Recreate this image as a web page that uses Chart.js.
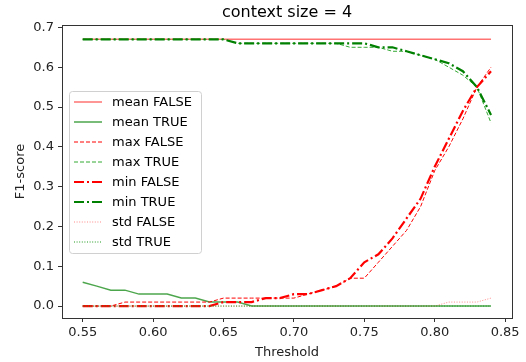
<!DOCTYPE html>
<html>
<head>
<meta charset="utf-8">
<script src="https://cdn.jsdelivr.net/npm/chart.js@4.4.1/dist/chart.umd.min.js"></script>
<style>
  html,body{margin:0;padding:0;background:#fff;}
</style>
</head>
<body>
<canvas id="myChart" width="526" height="362"></canvas>
<script>
// data, one point per 0.01 threshold
const thresholds = [0.55,0.56,0.57,0.58,0.59,0.60,0.61,0.62,0.63,0.64,0.65,0.66,0.67,0.68,0.69,0.70,0.71,0.72,0.73,0.74,0.75,0.76,0.77,0.78,0.79,0.80,0.81,0.82,0.83,0.84];
const meanFalse = [0.67,0.67,0.67,0.67,0.67,0.67,0.67,0.67,0.67,0.67,0.67,0.67,0.67,0.67,0.67,0.67,0.67,0.67,0.67,0.67,0.67,0.67,0.67,0.67,0.67,0.67,0.67,0.67,0.67,0.67];
const meanTrue  = [0.06,0.05,0.04,0.04,0.03,0.03,0.03,0.02,0.02,0.01,0.01,0.01,0,0,0,0,0,0,0,0,0,0,0,0,0,0,0,0,0,0];
const maxFalse  = [0,0,0,0.01,0.01,0.01,0.01,0.01,0.01,0.01,0.02,0.02,0.02,0.02,0.02,0.02,0.03,0.04,0.05,0.07,0.07,0.11,0.15,0.19,0.25,0.34,0.40,0.47,0.55,0.60];
const maxTrue   = [0.67,0.67,0.67,0.67,0.67,0.67,0.67,0.67,0.67,0.67,0.67,0.66,0.66,0.66,0.66,0.66,0.66,0.66,0.66,0.65,0.65,0.65,0.64,0.64,0.63,0.62,0.60,0.58,0.55,0.46];
const minFalse  = [0,0,0,0,0,0,0,0,0,0,0.01,0.01,0.01,0.02,0.02,0.03,0.03,0.04,0.05,0.07,0.11,0.13,0.17,0.22,0.27,0.35,0.42,0.49,0.55,0.59];
const minTrue   = [0.67,0.67,0.67,0.67,0.67,0.67,0.67,0.67,0.67,0.67,0.67,0.66,0.66,0.66,0.66,0.66,0.66,0.66,0.66,0.66,0.66,0.65,0.65,0.64,0.63,0.62,0.61,0.59,0.55,0.48];
const stdFalse  = [0,0,0,0,0,0,0,0,0,0,0,0,0,0,0,0,0,0,0,0,0,0,0,0,0,0,0.01,0.01,0.01,0.02];
const stdTrue   = [0,0,0,0,0,0,0,0,0,0,0,0,0,0,0,0,0,0,0,0,0,0,0,0,0,0,0,0,0,0];

const xTicks = [0.55,0.60,0.65,0.70,0.75,0.80,0.85];
const yTicks = [0,0.1,0.2,0.3,0.4,0.5,0.6,0.7];
const title = 'context size = 4';

const FONT = 'DejaVu Sans';
const pts = arr => arr.map((v,i) => ({x: thresholds[i], y: v}));

const series = [
  {label:'mean FALSE', data: meanFalse, color:'rgba(255,0,0,0.55)', width:1.5, dash:[]},
  {label:'mean TRUE',  data: meanTrue,  color:'rgba(0,128,0,0.7)',  width:1.5, dash:[]},
  {label:'max FALSE',  data: maxFalse,  color:'#ff0000', width:1, dash:[4,2]},
  {label:'max TRUE',   data: maxTrue,   color:'#33a833', width:1, dash:[4,2]},
  {label:'min FALSE',  data: minFalse,  color:'#ff0000', width:2.2, dash:[10,3,2,3]},
  {label:'min TRUE',   data: minTrue,   color:'#008000', width:2.2, dash:[10,3,2,3]},
  {label:'std FALSE',  data: stdFalse,  color:'rgba(255,60,60,0.6)', width:1, dash:[1,1.6]},
  {label:'std TRUE',   data: stdTrue,   color:'#1f9a1f', width:1, dash:[1,1.6]}
];

// box around the axes, title and the legend inside the plot
const framePlugin = {
  id:'frame',
  afterDraw(chart){
    const {ctx, chartArea:a} = chart;
    ctx.save();
    ctx.strokeStyle = '#333';
    ctx.lineWidth = 1;
    ctx.strokeRect(Math.round(a.left)+0.5, Math.round(a.top)+0.5, Math.round(a.right-a.left), Math.round(a.bottom-a.top));

    ctx.fillStyle = '#000';
    ctx.font = '16px "' + FONT + '"';
    ctx.textAlign = 'center';
    ctx.textBaseline = 'middle';
    ctx.fillText(title, (a.left+a.right)/2, 13);

    // legend
    const bx = a.left + 7, by = a.top + 66, bw = 132, bh = 162;
    ctx.setLineDash([]);
    ctx.fillStyle = 'rgba(255,255,255,0.8)';
    ctx.strokeStyle = '#d0d0d0';
    ctx.beginPath();
    ctx.roundRect(bx+0.5, by+0.5, bw, bh, 3);
    ctx.fill();
    ctx.stroke();
    ctx.font = '13px "' + FONT + '"';
    ctx.textAlign = 'left';
    chart.data.datasets.forEach((ds,i) => {
      const y = by + 11 + i*20;
      ctx.strokeStyle = ds.borderColor;
      ctx.lineWidth = ds.borderWidth;
      ctx.setLineDash(ds.borderDash);
      ctx.beginPath();
      ctx.moveTo(bx+5, y); ctx.lineTo(bx+33, y);
      ctx.stroke();
      ctx.fillStyle = '#000';
      ctx.fillText(ds.label, bx+43, y+1);
    });
    ctx.restore();
  }
};

const data = {
  datasets: series.map((s,i) => ({
    label: s.label,
    data: pts(s.data),
    borderColor: s.color,
    backgroundColor: s.color,
    borderWidth: s.width,
    borderDash: s.dash,
    pointRadius: 0,
    tension: 0,
    fill: false,
    order: series.length - i
  }))
};

const config = {
  type:'line',
  data,
  options:{
    responsive:false,
    animation:false,
    devicePixelRatio:1,
    layout:{padding:{left:0, right:14, top:25, bottom:0}},
    plugins:{
      legend:{display:false},
      tooltip:{enabled:false},
      title:{display:false}
    },
    scales:{
      x:{
        type:'linear',
        min:0.5353, max:0.8549,
        afterBuildTicks: s => { s.ticks = xTicks.map(v => ({value:v})); },
        afterFit: s => { s.height = 44; },
        ticks:{
          font:{family:FONT, size:13}, color:'#222', padding:3,
          maxRotation:0, autoSkip:false,
          callback: v => v.toFixed(2)
        },
        grid:{drawOnChartArea:false, drawTicks:true, tickLength:4, color:'#333'},
        border:{display:false},
        title:{display:true, text:'Threshold', font:{family:FONT, size:13}, color:'#222', padding:{top:0, bottom:2}}
      },
      y:{
        min:-0.03, max:0.706,
        afterBuildTicks: s => { s.ticks = yTicks.map(v => ({value:v})); },
        afterFit: s => { s.width = 62; },
        ticks:{
          font:{family:FONT, size:13}, color:'#222', padding:4,
          autoSkip:false,
          callback: v => v.toFixed(1)
        },
        grid:{drawOnChartArea:false, drawTicks:true, tickLength:4, color:'#333'},
        border:{display:false},
        title:{display:true, text:'F1-score', font:{family:FONT, size:13}, color:'#222', padding:{top:13, bottom:0}}
      }
    }
  },
  plugins:[framePlugin]
};

const myChart = new Chart(document.getElementById('myChart'), config);
</script>
</body>
</html>
